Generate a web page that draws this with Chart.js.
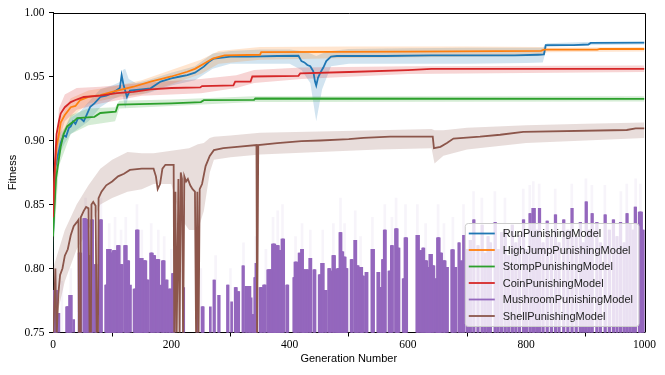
<!DOCTYPE html>
<html>
<head>
<meta charset="utf-8">
<script src="https://cdn.jsdelivr.net/npm/chart.js@4.4.1/dist/chart.umd.min.js"></script>
<style>
  html, body { margin: 0; padding: 0; background: #fff; }
  canvas { display: block; }
</style>
</head>
<body>
<canvas id="myChart" width="665" height="375"></canvas>
<script>
// RunPunishingModel
const runGen = [0,4,8,13,18,22,27,30,34,38,42,46,52,56,63,70,80,90,100,108,113,116,119,125,130,141,150,165,182,200,215,227,240,255,265,272,300,330,380,415,420,425,430,435,440,443,445,448,452,457,462,470,480,560,640,700,780,820,830,833,880,905,909,1000];
const runVal = [0.826,0.879,0.888,0.898,0.904,0.903,0.910,0.911,0.915,0.913,0.917,0.9175,0.915,0.919,0.9264,0.929,0.934,0.935,0.937,0.9395,0.941,0.951,0.944,0.934,0.939,0.9395,0.940,0.9408,0.946,0.9486,0.950,0.951,0.953,0.9577,0.962,0.964,0.9655,0.9655,0.966,0.9662,0.962,0.961,0.959,0.958,0.954,0.946,0.943,0.949,0.953,0.957,0.962,0.9655,0.966,0.966,0.9665,0.9665,0.9665,0.967,0.9672,0.9745,0.9745,0.975,0.9762,0.9764];
const runBandGen = [0,5,10,20,30,45,60,80,100,115,118,122,128,140,160,200,240,270,300,350,400,420,435,445,455,470,500,600,700,800,828,835,900,1000];
const runLo = [0.80,0.865,0.888,0.898,0.905,0.910,0.915,0.926,0.932,0.935,0.935,0.925,0.935,0.936,0.937,0.943,0.947,0.956,0.960,0.960,0.960,0.955,0.945,0.915,0.940,0.958,0.960,0.960,0.960,0.9605,0.961,0.973,0.9745,0.975];
const runHi = [0.84,0.89,0.905,0.91,0.918,0.922,0.93,0.940,0.943,0.946,0.955,0.956,0.948,0.945,0.947,0.953,0.958,0.968,0.970,0.971,0.971,0.970,0.968,0.966,0.968,0.970,0.9715,0.972,0.9725,0.9725,0.9725,0.976,0.977,0.977];

// HighJumpPunishingModel
const jumpGen = [0,3,6,10,13,20,30,38,46,60,80,100,136,165,182,200,227,240,255,270,290,350,352,600,825,830,920,925,1000];
const jumpVal = [0.835,0.875,0.895,0.905,0.914,0.92,0.926,0.927,0.9316,0.934,0.9355,0.938,0.942,0.946,0.948,0.950,0.9537,0.956,0.960,0.964,0.9665,0.967,0.969,0.9695,0.970,0.971,0.971,0.9715,0.9715];
const jumpBandGen = [0,10,30,60,100,150,200,250,280,350,500,700,825,835,1000];
const jumpLo = [0.82,0.895,0.918,0.929,0.933,0.936,0.944,0.952,0.960,0.963,0.9645,0.9655,0.966,0.969,0.9695];
const jumpHi = [0.85,0.915,0.933,0.939,0.942,0.947,0.955,0.963,0.970,0.973,0.9735,0.9735,0.973,0.9725,0.973];

// StompPunishingModel
const stompGen = [0,5,13,18,24,35,41,70,80,106,110,200,250,255,340,342,1000];
const stompVal = [0.825,0.87,0.895,0.905,0.911,0.915,0.9175,0.9185,0.9215,0.9225,0.928,0.929,0.930,0.9315,0.9318,0.9328,0.9325];
const stompBandGen = [0,10,30,60,105,112,200,340,1000];
const stompLo = [0.81,0.88,0.905,0.912,0.915,0.925,0.927,0.930,0.9305];
const stompHi = [0.84,0.90,0.92,0.925,0.926,0.931,0.932,0.9345,0.9345];

// CoinPunishingModel
const coinGen = [0,3,6,10,13,20,30,40,52,80,108,136,165,200,249,252,305,308,334,337,415,418,500,600,640,1000];
const coinVal = [0.84,0.88,0.905,0.915,0.921,0.926,0.93,0.932,0.934,0.935,0.937,0.938,0.940,0.941,0.9415,0.9425,0.943,0.946,0.946,0.950,0.9505,0.9525,0.9535,0.955,0.956,0.956];
const coinBandGen = [0,10,20,40,80,150,250,310,340,420,600,1000];
const coinLo = [0.82,0.90,0.915,0.924,0.929,0.935,0.937,0.941,0.945,0.948,0.952,0.9535];
const coinHi = [0.86,0.925,0.936,0.941,0.942,0.945,0.948,0.951,0.955,0.957,0.958,0.9585];

// MushroomPunishingModel (bars: generation range and height)
const mushFrom = [2,10,23,28,35,44,52,57,61,65,71,80,89,92,98,102,109,114,121,126,131,137,141,145,153,158,165,170,175,182,185,191,196,202,221,244,252,266,272,280,295,302,308,313,321,326,331,335,337,341,343,350,356,363,367,371,375,378,382,387,395,407,409,414,416,420,423,428,434,441,450,454,460,466,469,473,478,481,485,488,491,494,504,510,514,519,523,529,539,549,553,557,560,568,572,579,583,592,595,615,621,625,629,633,637,642,647,650,654,660,666,674,680,686,690,694,700,705,711,718,725,730,735,739,747,752,758,764,770,776,782,788,795,800,806,811,818,822,828,835,842,849,855,863,870,877,884,891,896,901,906,911,919,925,933,940,947,953,959,965,970,975,980,984,991,998];
const mushTo = [6,10,26,31,35,47,55,59,64,67,73,82,91,97,101,106,112,117,124,128,131,140,144,151,157,161,168,172,179,182,188,193,199,205,221,244,254,266,273,281,296,302,310,314,322,328,333,335,339,342,344,353,359,366,370,375,377,381,385,390,397,408,412,414,417,422,426,431,436,443,452,457,462,468,470,476,480,484,487,490,494,497,506,512,516,522,525,531,542,551,555,559,562,570,574,582,585,594,598,618,623,627,632,636,640,644,649,653,657,663,667,677,681,687,691,695,701,706,712,719,726,731,736,740,748,753,759,765,771,777,783,789,796,801,807,814,819,823,829,836,843,850,856,864,871,878,885,892,897,902,907,912,920,926,934,941,948,954,960,966,971,976,981,985,995,999];
const mushTop = [0.783,0.765,0.770,0.779,0.760,0.812,0.839,0.838,0.810,0.838,0.803,0.838,0.787,0.815,0.812,0.814,0.818,0.803,0.818,0.806,0.787,0.784,0.830,0.808,0.806,0.791,0.812,0.810,0.807,0.787,0.806,0.791,0.784,0.796,0.785,0.789,0.770,0.770,0.791,0.779,0.787,0.774,0.785,0.782,0.802,0.786,0.786,0.777,0.764,0.793,0.804,0.785,0.787,0.799,0.799,0.819,0.797,0.818,0.814,0.823,0.787,0.793,0.805,0.800,0.812,0.815,0.799,0.799,0.808,0.799,0.795,0.804,0.783,0.800,0.798,0.810,0.799,0.800,0.828,0.813,0.809,0.800,0.807,0.822,0.802,0.801,0.794,0.797,0.815,0.797,0.785,0.807,0.830,0.798,0.818,0.831,0.816,0.792,0.824,0.826,0.814,0.816,0.806,0.801,0.811,0.802,0.792,0.824,0.812,0.806,0.801,0.8145,0.801,0.820,0.806,0.826,0.815,0.822,0.838,0.818,0.834,0.812,0.825,0.820,0.836,0.815,0.828,0.830,0.810,0.834,0.820,0.826,0.838,0.815,0.843,0.847,0.830,0.847,0.820,0.837,0.825,0.842,0.820,0.838,0.830,0.847,0.825,0.836,0.820,0.852,0.830,0.843,0.836,0.820,0.842,0.830,0.838,0.825,0.836,0.820,0.843,0.835,0.830,0.848,0.844,0.830];
const mushBandGen = [5,15,30,45,55,66,81,95,105,115,123,142,150,166,178,188,200,215,250,275,300,322,343,360,372,380,388,410,421,435,456,474,486,493,511,520,540,561,573,580,596,616,630,651,661,676,694,711,725,747,764,795,806,812,822,849,877,901,911,933,960,970,985,993];
const mushBandTop = [0.80,0.79,0.80,0.835,0.855,0.85,0.855,0.835,0.84,0.83,0.84,0.85,0.83,0.835,0.83,0.825,0.815,0.80,0.80,0.81,0.80,0.82,0.825,0.815,0.84,0.845,0.85,0.825,0.835,0.83,0.83,0.835,0.855,0.835,0.845,0.825,0.84,0.85,0.84,0.855,0.85,0.85,0.835,0.85,0.835,0.84,0.85,0.86,0.855,0.86,0.855,0.862,0.865,0.868,0.866,0.862,0.866,0.87,0.865,0.865,0.86,0.866,0.87,0.866];

// ShellPunishingModel
const shellGen = [0,4,6,9,12,16,20,25,30,35,40,43,44,46,47,52,56,60,62,64,65,68,72,74,76,77,82,90,100,110,120,130,150,170,174,177,181,185,190,204,205,207,209,212,214,216,218,220,222,225,228,232,236,240,242,244,246,248,252,258,265,272,288,311,344,345,346,347,379,420,452,500,525,570,642,644,655,666,677,722,756,795,970,985,1000];
const shellVal = [0.74,0.80,0.745,0.78,0.795,0.80,0.81,0.815,0.826,0.833,0.836,0.838,0.74,0.74,0.84,0.845,0.848,0.847,0.74,0.74,0.85,0.852,0.849,0.74,0.74,0.855,0.86,0.865,0.868,0.872,0.874,0.877,0.878,0.878,0.872,0.862,0.866,0.878,0.881,0.881,0.74,0.86,0.74,0.87,0.74,0.875,0.87,0.74,0.872,0.868,0.87,0.865,0.862,0.86,0.74,0.86,0.74,0.862,0.866,0.88,0.888,0.8925,0.894,0.895,0.8965,0.74,0.74,0.8965,0.898,0.8995,0.900,0.901,0.902,0.903,0.903,0.894,0.895,0.898,0.9015,0.903,0.9045,0.9068,0.9082,0.9095,0.9095];
const shellBandGen = [0,10,20,40,60,80,100,126,150,170,200,215,230,245,255,265,272,300,350,450,550,640,645,660,700,800,900,1000];
const shellLo = [0.75,0.77,0.79,0.815,0.83,0.85,0.855,0.86,0.862,0.866,0.866,0.84,0.83,0.83,0.845,0.875,0.885,0.887,0.889,0.891,0.893,0.894,0.882,0.888,0.893,0.898,0.9,0.902];
const shellHi = [0.80,0.815,0.83,0.85,0.865,0.878,0.885,0.891,0.89,0.89,0.892,0.893,0.894,0.897,0.898,0.902,0.903,0.904,0.906,0.907,0.908,0.909,0.908,0.908,0.91,0.912,0.913,0.914];

const xTicks = [0, 200, 400, 600, 800, 1000];
const yTicks = [0.75, 0.80, 0.85, 0.90, 0.95, 1.00];

const models = [
  { label: "RunPunishingModel", color: "#1f77b4" },
  { label: "HighJumpPunishingModel", color: "#ff7f0e" },
  { label: "StompPunishingModel", color: "#2ca02c" },
  { label: "CoinPunishingModel", color: "#d62728" },
  { label: "MushroomPunishingModel", color: "#9467bd" },
  { label: "ShellPunishingModel", color: "#8c564b" }
];

function pts(gen, val) {
  return gen.map((g, i) => ({ x: g, y: val[i] }));
}

function hexAlpha(hex, a) {
  const n = parseInt(hex.slice(1), 16);
  return "rgba(" + (n >> 16) + "," + ((n >> 8) & 255) + "," + (n & 255) + "," + a + ")";
}

function lineSet(m, gen, val, order) {
  return {
    type: "line", label: m.label, data: pts(gen, val),
    borderColor: m.color, backgroundColor: m.color, borderWidth: 1.8,
    pointRadius: 0, fill: false, tension: 0, order: order
  };
}

function bandSets(m, gen, lo, hi, order) {
  return [
    { type: "line", label: "_lo", data: pts(gen, lo), borderColor: "rgba(0,0,0,0)",
      borderWidth: 0, pointRadius: 0, fill: false, order: order },
    { type: "line", label: "_hi", data: pts(gen, hi), borderColor: "rgba(0,0,0,0)",
      borderWidth: 0, pointRadius: 0, fill: "-1", backgroundColor: hexAlpha(m.color, 0.2), order: order }
  ];
}

// expand each bar range into one bar per generation
const mushBars = [];
mushFrom.forEach((f, i) => {
  for (let g = f; g <= mushTo[i]; g++) mushBars.push({ x: g, y: mushTop[i] });
});

const datasets = [
  ...bandSets(models[0], runBandGen, runLo, runHi, 30),
  ...bandSets(models[1], jumpBandGen, jumpLo, jumpHi, 29),
  ...bandSets(models[2], stompBandGen, stompLo, stompHi, 28),
  ...bandSets(models[3], coinBandGen, coinLo, coinHi, 27),
  ...bandSets(models[5], shellBandGen, shellLo, shellHi, 25),
  { type: "bar", label: "_mushband", data: pts(mushBandGen, mushBandTop),
    backgroundColor: hexAlpha(models[4].color, 0.07), barThickness: 2, grouped: false, base: 0.74, order: 26 },
  lineSet(models[0], runGen, runVal, 6),
  lineSet(models[1], jumpGen, jumpVal, 5),
  lineSet(models[2], stompGen, stompVal, 4),
  lineSet(models[3], coinGen, coinVal, 3),
  { type: "bar", label: models[4].label, data: mushBars,
    backgroundColor: models[4].color, barThickness: 2, grouped: false, base: 0.74, order: 2 },
  lineSet(models[5], shellGen, shellVal, 1)
];

const frame = {
  id: "frame",
  afterDatasetsDraw(chart) {
    const a = chart.chartArea, ctx = chart.ctx;
    ctx.save();
    ctx.strokeStyle = "#000";
    ctx.lineWidth = 1;
    ctx.beginPath();
    ctx.moveTo(a.left, Math.round(a.top) + 0.5);
    ctx.lineTo(Math.round(a.right) + 0.5, Math.round(a.top) + 0.5);
    ctx.lineTo(Math.round(a.right) + 0.5, a.bottom);
    ctx.stroke();
    ctx.restore();
  }
};

const legendBox = {
  id: "legendBox",
  afterDraw(chart) {
    const a = chart.chartArea, ctx = chart.ctx;
    ctx.save();
    ctx.font = "11px 'Liberation Sans', sans-serif";
    let tw = 0;
    models.forEach(m => { tw = Math.max(tw, ctx.measureText(m.label).width); });
    const w = 3.5 + 26 + 8 + tw + 6;
    const h = 103;
    const right = a.right - 5.5, bottom = a.bottom - 6;
    const x0 = right - w, y0 = bottom - h;
    ctx.fillStyle = "rgba(255,255,255,0.8)";
    ctx.strokeStyle = "#cccccc";
    ctx.lineWidth = 1;
    ctx.beginPath();
    ctx.roundRect(x0, y0, w, h, 3);
    ctx.fill();
    ctx.stroke();
    ctx.textBaseline = "middle";
    models.forEach((m, i) => {
      const y = y0 + 10 + i * 16.5;
      ctx.strokeStyle = m.color;
      ctx.lineWidth = 1.8;
      ctx.beginPath();
      ctx.moveTo(x0 + 3.5, y);
      ctx.lineTo(x0 + 29.5, y);
      ctx.stroke();
      ctx.fillStyle = "#222";
      ctx.fillText(m.label, x0 + 37.5, y + 0.5);
    });
    ctx.restore();
  }
};

new Chart(document.getElementById("myChart").getContext("2d"), {
  data: { datasets: datasets },
  plugins: [frame, legendBox],
  options: {
    responsive: false,
    animation: false,
    devicePixelRatio: 1,
    layout: { padding: { top: 12.5, right: 20.5, left: 0, bottom: 0 } },
    plugins: { legend: { display: false }, tooltip: { enabled: false } },
    scales: {
      x: {
        type: "linear", min: 0, max: 1000, offset: false,
        afterBuildTicks: s => { s.ticks = xTicks.map(v => ({ value: v })); },
        afterFit: s => { s.height = 42.5; },
        ticks: { color: "#000", padding: 2, maxRotation: 0, callback: v => String(v),
          font: { family: "'Liberation Serif', serif", size: 11.5 } },
        grid: { drawOnChartArea: false, tickLength: 4, color: "#000" },
        border: { color: "#000", width: 1 },
        title: { display: true, text: "Generation Number", color: "#000",
          font: { family: "'Liberation Sans', sans-serif", size: 11 }, padding: { top: 0, bottom: 9 } }
      },
      y: {
        min: 0.75, max: 1.0,
        afterBuildTicks: s => { s.ticks = yTicks.map(v => ({ value: v })); },
        afterFit: s => { s.width = 53; },
        ticks: { color: "#000", padding: 4.5, callback: v => v.toFixed(2),
          font: { family: "'Liberation Serif', serif", size: 11.5 } },
        grid: { drawOnChartArea: false, tickLength: 4, color: "#000" },
        border: { color: "#000", width: 1 },
        title: { display: true, text: "Fitness", color: "#000",
          font: { family: "'Liberation Sans', sans-serif", size: 11 }, padding: { top: 6, bottom: 0 } }
      }
    }
  }
});
</script>
</body>
</html>
